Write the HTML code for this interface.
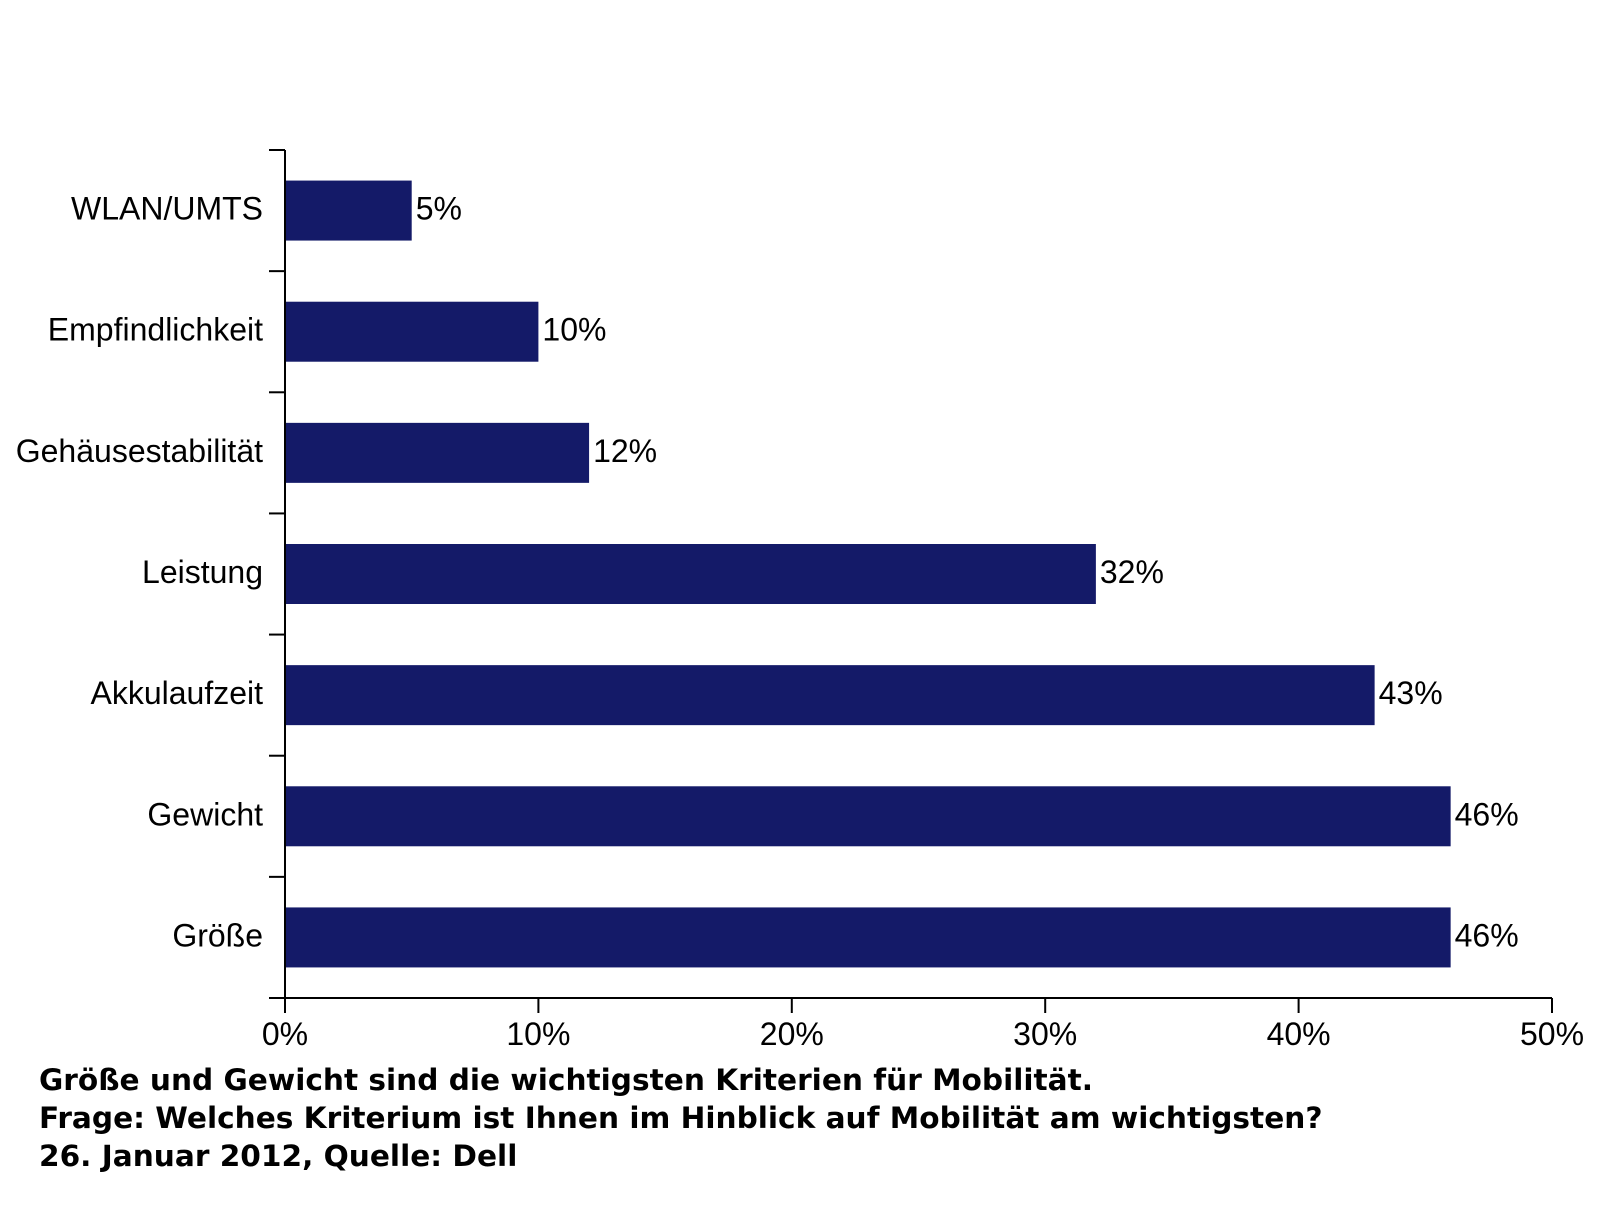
<!DOCTYPE html>
<html><head><meta charset="utf-8"><style>
body{margin:0;background:#fff;width:1600px;height:1200px;overflow:hidden}
svg text{font-family:"Liberation Sans",Arial,sans-serif}
</style></head><body>
<svg width="1600" height="1200" xmlns="http://www.w3.org/2000/svg">
<g id="plot"></g>
<g font-weight="bold" font-size="29.6" fill="#000">
<text x="39" y="1090" style="font-family:'DejaVu Sans',sans-serif">Größe und Gewicht sind die wichtigsten Kriterien für Mobilität.</text>
<text x="39" y="1128" style="font-family:'DejaVu Sans',sans-serif">Frage: Welches Kriterium ist Ihnen im Hinblick auf Mobilität am wichtigsten?</text>
<text x="39" y="1166" style="font-family:'DejaVu Sans',sans-serif">26. Januar 2012, Quelle: Dell</text>
</g>
</svg>
<script>
const categories = ["WLAN/UMTS","Empfindlichkeit","Gehäusestabilität","Leistung","Akkulaufzeit","Gewicht","Größe"];
const values = [5,10,12,32,43,46,46];
const xTicks = [0,10,20,30,40,50];
const xTickLabels = ["0%","10%","20%","30%","40%","50%"];

const NS="http://www.w3.org/2000/svg";
const g=document.getElementById('plot');
const x0=285,x1=1552,y0=150,y1=998,xMax=50;
const xs=v=>x0+(v/xMax)*(x1-x0);
const band=(y1-y0)/categories.length;
const ys=i=>y0+band*i;
function mk(tag,attrs){const e=document.createElementNS(NS,tag);for(const k in attrs)e.setAttribute(k,attrs[k]);g.appendChild(e);return e;}
categories.forEach((c,i)=>{
  const bh=60, yc=ys(i)+band/2;
  const r=mk('rect',{x:x0,y:yc-bh/2,width:xs(values[i])-x0,height:bh,fill:'#141a68'});
  
  
  const t=mk('text',{x:263,y:yc+9,'text-anchor':'end','font-size':32});
  t.textContent=c;
  
  
  const v=mk('text',{x:xs(values[i])+4,y:yc+9,'font-size':32});
  v.textContent=values[i]+'%';
  
  
});
for(let i=0;i<=categories.length;i++){
  const l=mk('line',{x1:269,x2:x0,y1:ys(i),y2:ys(i),stroke:'#000','stroke-width':2});
  
  
}
xTicks.forEach((v,i)=>{
  const l=mk('line',{x1:xs(v),x2:xs(v),y1:y1,y2:y1+15,stroke:'#000','stroke-width':2});
  
  
  const t=mk('text',{x:xs(v),y:1045,'text-anchor':'middle','font-size':32});
  t.textContent=xTickLabels[i];
  
  
});
const ya=mk('line',{x1:x0,x2:x0,y1:y0,y2:y1+1,stroke:'#000','stroke-width':2});


const xa=mk('line',{x1:x0-1,x2:x1,y1:y1,y2:y1,stroke:'#000','stroke-width':2});


</script>
</body></html>
